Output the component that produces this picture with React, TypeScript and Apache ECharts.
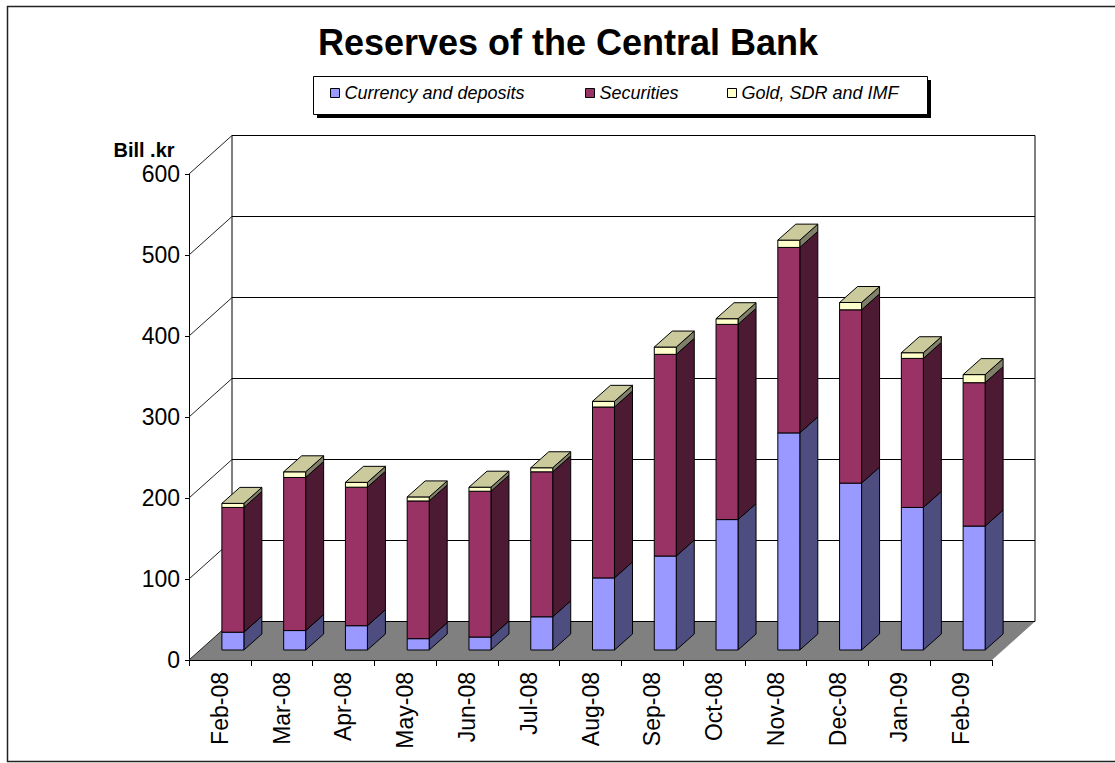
import React, { useEffect, useRef } from "react";
import * as echarts from "echarts";

const months = ["Feb-08", "Mar-08", "Apr-08", "May-08", "Jun-08", "Jul-08", "Aug-08", "Sep-08", "Oct-08", "Nov-08", "Dec-08", "Jan-09", "Feb-09"];
const currency = [22, 24, 30, 14, 16, 41, 89, 116, 161, 268, 206, 176, 153];
const securities = [154, 189, 171, 170, 180, 179, 211, 249, 241, 229, 214, 184, 177];
const gold = [5, 7, 6, 5, 5, 5, 7, 9, 7, 9, 9, 7, 10];
const yTicks = [0, 100, 200, 300, 400, 500, 600];
const seriesNames = ["Currency and deposits", "Securities", "Gold, SDR and IMF"];

const FONT = "'Liberation Sans', Arial, sans-serif";

// 3D geometry (pixels)
const DEPTH_X = 43;
const DEPTH_Y = -38.5;
const BAR_OX = 13;
const BAR_OY = -10;
const SIDE_X = 18;
const SIDE_Y = -16;

function makeBarRender(front: string, side: string, top: string | null) {
  return (params: any, api: any) => {
    const idx = api.value(0);
    const v0 = api.value(1);
    const v1 = api.value(2);
    const p0 = api.coord([idx, v0]);
    const p1 = api.coord([idx, v1]);
    const bw = api.size([1, 0])[0] * 0.356;
    const xl = p0[0] - bw / 2 + BAR_OX;
    const xr = p0[0] + bw / 2 + BAR_OX;
    const yb = p0[1] + BAR_OY;
    const yt = p1[1] + BAR_OY;
    const stroke = { stroke: "#000", lineWidth: 1 };
    const children: any[] = [
      {
        type: "polygon",
        shape: { points: [[xr, yt], [xr + SIDE_X, yt + SIDE_Y], [xr + SIDE_X, yb + SIDE_Y], [xr, yb]] },
        style: { fill: side, ...stroke },
      },
      {
        type: "rect",
        shape: { x: xl, y: yt, width: xr - xl, height: yb - yt },
        style: { fill: front, ...stroke },
      },
    ];
    if (top) {
      children.push({
        type: "polygon",
        shape: { points: [[xl, yt], [xl + SIDE_X, yt + SIDE_Y], [xr + SIDE_X, yt + SIDE_Y], [xr, yt]] },
        style: { fill: top, ...stroke },
      });
    }
    return { type: "group", children };
  };
}

function wallsRender(params: any, api: any) {
  const v = api.value(1);
  const cs = params.coordSys;
  const y = api.coord([0, v])[1];
  const left = cs.x;
  const right = cs.x + cs.width;
  const line = { stroke: "#000", lineWidth: 1 };
  const children: any[] = [];
  if (v === 0) {
    const yTop = api.coord([0, 600])[1];
    children.push({
      type: "polygon",
      shape: { points: [[left, y], [right, y], [right + DEPTH_X, y + DEPTH_Y], [left + DEPTH_X, y + DEPTH_Y]] },
      style: { fill: "#808080", stroke: "none" },
    });
    children.push({
      type: "line",
      shape: { x1: left + DEPTH_X, y1: yTop + DEPTH_Y, x2: left + DEPTH_X, y2: y + DEPTH_Y },
      style: line,
    });
    children.push({
      type: "line",
      shape: { x1: right + DEPTH_X, y1: yTop + DEPTH_Y, x2: right + DEPTH_X, y2: y + DEPTH_Y },
      style: line,
    });
  }
  children.push({
    type: "line",
    shape: { x1: left, y1: y, x2: left + DEPTH_X, y2: y + DEPTH_Y },
    style: { stroke: "#222", lineWidth: 1 },
  });
  children.push({
    type: "line",
    shape: { x1: left + DEPTH_X, y1: y + DEPTH_Y, x2: right + DEPTH_X, y2: y + DEPTH_Y },
    style: line,
  });
  return { type: "group", children };
}

export default function App() {
  const ref = useRef<HTMLDivElement>(null);
  useEffect(() => {
    if (!ref.current) return;
    const chart = echarts.init(ref.current, null, { renderer: "svg" });

    const currData = months.map((_, i) => [i, 0, currency[i]]);
    const secData = months.map((_, i) => [i, currency[i], currency[i] + securities[i]]);
    const goldData = months.map((_, i) => [
      i,
      currency[i] + securities[i],
      currency[i] + securities[i] + gold[i],
    ]);

    const legendBase = {
      top: 84,
      padding: 0,
      itemWidth: 9,
      itemHeight: 9,
      icon: "rect",
      textStyle: { fontFamily: FONT, fontSize: 18, fontStyle: "italic", color: "#000" },
      itemStyle: { borderColor: "#000", borderWidth: 1 },
    };

    chart.setOption({
      animation: false,
      backgroundColor: "#fff",
      title: {
        text: "Reserves of the Central Bank",
        left: 563,
        top: 19,
        textAlign: "center",
        textStyle: { fontFamily: FONT, fontSize: 36, fontWeight: "bold", color: "#000" },
      },
      legend: [
        { ...legendBase, left: 330, data: [seriesNames[0]] },
        { ...legendBase, left: 585, data: [seriesNames[1]] },
        { ...legendBase, left: 727, data: [seriesNames[2]] },
      ],
      graphic: [
        {
          type: "rect",
          z: -10,
          silent: true,
          shape: { x: 7.5, y: 6.5, width: 1120, height: 755 },
          style: { fill: "none", stroke: "#222", lineWidth: 1.5 },
        },
        {
          type: "rect",
          z: 1,
          silent: true,
          shape: { x: 317, y: 80, width: 614, height: 38 },
          style: { fill: "#000" },
        },
        {
          type: "rect",
          z: 1,
          silent: true,
          shape: { x: 313.5, y: 76.5, width: 614, height: 38 },
          style: { fill: "#fff", stroke: "#000", lineWidth: 1 },
        },
        {
          type: "text",
          z: 5,
          silent: true,
          x: 144,
          y: 150,
          style: {
            text: "Bill .kr",
            fontFamily: FONT,
            fontSize: 20,
            fontWeight: "bold",
            fill: "#000",
            align: "center",
            verticalAlign: "middle",
          },
        },
      ],
      grid: { left: 189, right: 123, top: 174, bottom: 103, containLabel: false },
      xAxis: {
        type: "category",
        data: months,
        boundaryGap: true,
        axisLine: { show: true, lineStyle: { color: "#000", width: 1 } },
        axisTick: { show: true, length: 6, lineStyle: { color: "#000" } },
        axisLabel: {
          rotate: 90,
          margin: 12,
          fontFamily: FONT,
          fontSize: 23,
          color: "#000",
          interval: 0,
        },
        splitLine: { show: false },
      },
      yAxis: {
        type: "value",
        min: 0,
        max: 600,
        interval: 100,
        axisLine: { show: true, lineStyle: { color: "#000", width: 1 } },
        axisTick: { show: true, length: 4, inside: false, lineStyle: { color: "#000" } },
        axisLabel: { margin: 9, fontFamily: FONT, fontSize: 23, color: "#000" },
        splitLine: { show: false },
      },
      series: [
        {
          type: "custom",
          name: "walls",
          z: 1,
          silent: true,
          renderItem: wallsRender,
          encode: { x: 0, y: 1 },
          data: yTicks.map((v) => [0, v]),
        },
        {
          type: "custom",
          name: seriesNames[0],
          z: 2,
          itemStyle: { color: "#9999FF" },
          renderItem: makeBarRender("#9999FF", "#4D4D80", null),
          encode: { x: 0, y: [1, 2] },
          data: currData,
        },
        {
          type: "custom",
          name: seriesNames[1],
          z: 2,
          itemStyle: { color: "#993366" },
          renderItem: makeBarRender("#993366", "#4D1A33", null),
          encode: { x: 0, y: [1, 2] },
          data: secData,
        },
        {
          type: "custom",
          name: seriesNames[2],
          z: 2,
          itemStyle: { color: "#FFFFCC" },
          renderItem: makeBarRender("#FFFFCC", "#80806A", "#CACA9C"),
          encode: { x: 0, y: [1, 2] },
          data: goldData,
        },
      ],
    });
    return () => chart.dispose();
  }, []);
  return (
    <div
      ref={ref}
      style={{ position: "fixed", left: 0, top: 0, width: 1115, height: 763, background: "#fff" }}
    />
  );
}
